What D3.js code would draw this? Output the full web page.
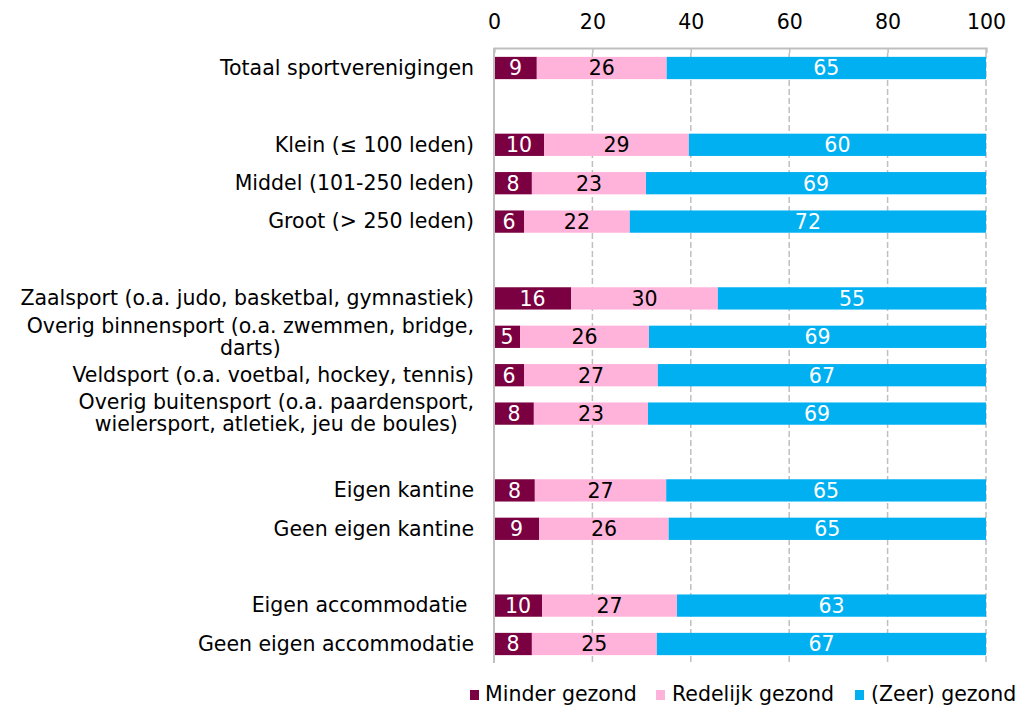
<!DOCTYPE html>
<html>
<head>
<meta charset="utf-8">
<script src="https://cdn.jsdelivr.net/npm/d3@7"></script>
<style>
  body { margin: 0; background: #fff; }
  text { font-family: "DejaVu Sans", Verdana, sans-serif; }
</style>
</head>
<body>
<script>
var width = 1032;
var height = 707;
var fontSize = 20.5;

var minderColor = "#7b0041";
var redelijkColor = "#ffb3da";
var zeerColor = "#00b0f0";
var gridColor = "#bfbfbf";

// "" = empty row between groups
var categories = [
    "Totaal sportverenigingen",
    "",
    "Klein (≤ 100 leden)",
    "Middel (101-250 leden)",
    "Groot (> 250 leden)",
    "",
    "Zaalsport (o.a. judo, basketbal, gymnastiek)",
    "Overig binnensport (o.a. zwemmen, bridge,|darts)",
    "Veldsport (o.a. voetbal, hockey, tennis)",
    "Overig buitensport (o.a. paardensport,|wielersport, atletiek, jeu de boules)",
    "",
    "Eigen kantine",
    "Geen eigen kantine",
    "",
    "Eigen accommodatie\u00a0",
    "Geen eigen accommodatie"
];
var minder    = [8.7, null, 10.2, 7.7, 6.1, null, 15.7, 5.3, 6.1, 8.1, null, 8.3, 9.2, null, 9.8, 7.7];
var redelijk  = [26.4, null, 29.4, 23.2, 21.5, null, 29.8, 26.2, 27.2, 23.2, null, 26.7, 26.3, null, 27.4, 25.4];
var zeer      = [64.9, null, 60.4, 69.1, 72.4, null, 54.5, 68.5, 66.7, 68.7, null, 65.0, 64.5, null, 62.8, 66.9];
var seriesNames = ["Minder gezond", "Redelijk gezond", "(Zeer) gezond"];
var xTicks = [0, 20, 40, 60, 80, 100];

var svg = d3.select("body").append("svg")
    .attr("width", width)
    .attr("height", height);

var x = d3.scaleLinear().domain([0, 100]).range([494, 986]);
var y = d3.scaleBand()
    .domain(d3.range(categories.length))
    .range([48.8, 663.2])
    .paddingInner(0.42)
    .paddingOuter(0.21);

// dashed gridlines
xTicks.slice(1).forEach(function(t) {
    svg.append("line")
        .attr("x1", x(t)).attr("x2", x(t))
        .attr("y1", 53).attr("y2", 663)
        .attr("stroke", gridColor)
        .attr("stroke-width", 1.5)
        .attr("stroke-dasharray", "6,3");
});

// top axis
var xAxis = d3.axisTop(x).tickValues(xTicks).tickSize(-5).tickPadding(19);
var gx = svg.append("g")
    .attr("transform", "translate(0,48)")
    .call(xAxis);
gx.select(".domain").attr("stroke", gridColor).attr("stroke-width", 2);
gx.selectAll(".tick line").attr("stroke", gridColor).attr("stroke-width", 1.5);
gx.selectAll(".tick text")
    .attr("fill", "#000")
    .style("font-size", fontSize + "px")
    .style("font-family", '"DejaVu Sans", Verdana, sans-serif');

// stacked bars
var series = [
    { name: seriesNames[0], values: minder, color: minderColor, textColor: "#fff" },
    { name: seriesNames[1], values: redelijk, color: redelijkColor, textColor: "#000" },
    { name: seriesNames[2], values: zeer, color: zeerColor, textColor: "#fff" }
];

var bars = svg.append("g");
categories.forEach(function(c, i) {
    if (minder[i] == null) return;
    var start = 0;
    series.forEach(function(s) {
        var v = s.values[i];
        bars.append("rect")
            .attr("x", x(start))
            .attr("y", y(i))
            .attr("width", x(start + v) - x(start))
            .attr("height", y.bandwidth())
            .attr("fill", s.color);
        bars.append("text")
            .attr("x", (x(start) + x(start + v)) / 2)
            .attr("y", y(i) + y.bandwidth() / 2)
            .attr("dy", "0.36em")
            .attr("text-anchor", "middle")
            .attr("fill", s.textColor)
            .style("font-size", fontSize + "px")
            .text(Math.round(v));
        start += v;
    });
});

// left axis line
svg.append("line")
    .attr("x1", 494).attr("x2", 494)
    .attr("y1", 48).attr("y2", 663)
    .attr("stroke", gridColor)
    .attr("stroke-width", 2);

// category labels (wrapped lines centred under the first one)
var labelRight = 474;
var lineHeight = 22;
categories.forEach(function(c, i) {
    if (c === "") return;
    var lines = c.split("|");
    var cy = y(i) + y.bandwidth() / 2;
    var top = cy - (lines.length - 1) * lineHeight / 2;
    var first = svg.append("text")
        .attr("x", labelRight)
        .attr("y", top)
        .attr("dy", "0.33em")
        .attr("text-anchor", "end")
        .style("font-size", fontSize + "px")
        .text(lines[0]);
    var w = first.node().getComputedTextLength();
    for (var k = 1; k < lines.length; k++) {
        svg.append("text")
            .attr("x", labelRight - w / 2)
            .attr("y", top + k * lineHeight)
            .attr("dy", "0.33em")
            .attr("text-anchor", "middle")
            .style("font-size", fontSize + "px")
            .text(lines[k]);
    }
});

// legend
var legendX = [470, 656, 855];
var legendTextX = [485, 672, 871];
series.forEach(function(s, i) {
    svg.append("rect")
        .attr("x", legendX[i])
        .attr("y", 690)
        .attr("width", 9)
        .attr("height", 10)
        .attr("fill", s.color);
    svg.append("text")
        .attr("x", legendTextX[i])
        .attr("y", 694)
        .attr("dy", "0.36em")
        .style("font-size", fontSize + "px")
        .text(s.name);
});
</script>
</body>
</html>
